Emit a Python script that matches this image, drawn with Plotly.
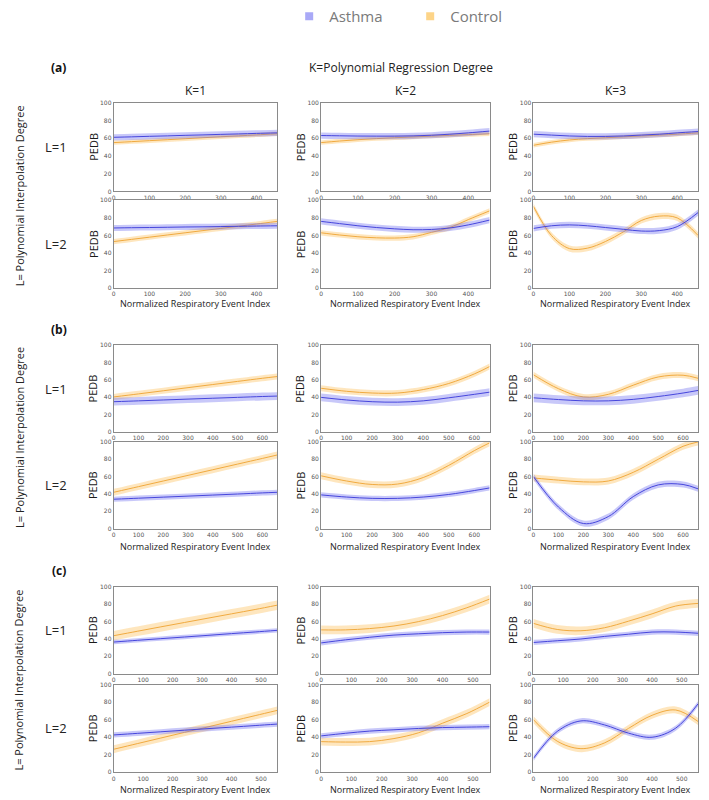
import plotly.graph_objects as go

# ---------------- data ----------------
series_names = ["Asthma", "Control"]
k_labels = ["K=1", "K=2", "K=3"]
l_labels = ["L=1", "L=2"]
panel_labels = ["(a)", "(b)", "(c)"]
y_ticks = [0, 20, 40, 60, 80, 100]

# x sample positions (normalized respiratory event index) for each panel
x_a = [0, 50, 100, 150, 200, 250, 300, 350, 400, 458]
x_b = [0, 100, 200, 300, 400, 500, 600, 660]
x_c = [0, 80, 160, 240, 320, 400, 480, 555]
xticks_a = [0, 100, 200, 300, 400]
xticks_b = [0, 100, 200, 300, 400, 500, 600]
xticks_c = [0, 100, 200, 300, 400, 500]

# Panel (a): mean PEDB, lists ordered K=1, K=2, K=3
a_asthma_L1 = [[61, 61.5, 62.1, 62.6, 63.2, 63.7, 64.3, 64.8, 65.4, 66],
               [63, 62.7, 62.4, 62.3, 62.3, 62.6, 63.3, 64.5, 66, 68],
               [64.5, 63.5, 62.5, 62, 62, 62.5, 63.5, 64.5, 66, 67.5]]
a_control_L1 = [[55, 56.1, 57.2, 58.3, 59.4, 60.5, 61.6, 62.6, 63.7, 65],
                [55, 56.8, 58.3, 59.5, 60.5, 61.4, 62.3, 63.2, 64, 65],
                [52, 55.5, 58, 59.5, 60.5, 61.5, 62.5, 63.5, 64.5, 66]]
a_asthma_L2 = [[68.5, 68.8, 69, 69.3, 69.6, 69.8, 70.1, 70.4, 70.7, 71],
               [76, 73.5, 71, 69, 67.5, 66.5, 66.8, 68.5, 72, 77.5],
               [68, 71, 72, 71, 69, 67, 65, 65.5, 70, 86]]
a_control_L2 = [[53, 55.5, 58, 60.5, 63, 65.5, 68, 70.5, 73, 76],
                [63, 60.5, 58.5, 57.3, 57, 58.5, 63.5, 69, 78, 88],
                [93, 60, 45, 45.5, 53, 64, 77, 82, 80, 60]]
# confidence half-widths
a_asthma_ci = [[3.5, 3.5, 3.5], [3.5, 3.5, 3.5]]
a_control_ci = [[2.5, 2.5, 2.5], [3.0, 3.0, 3.5]]

# Panel (b)
b_asthma_L1 = [[35, 36, 37, 38, 39, 40, 41, 41.5],
               [40, 37, 35, 34.5, 36, 39.5, 43.5, 46],
               [39.5, 37.5, 36, 36, 37.7, 41, 45, 48]]
b_control_L1 = [[40.5, 44, 47.6, 51.2, 54.8, 58.4, 62, 64],
                [50.5, 47, 45, 45, 49, 56, 67, 75.5],
                [66, 50, 40.5, 43.5, 54, 63.5, 65.5, 62]]
b_asthma_L2 = [[34, 35.2, 36.4, 37.6, 38.8, 40, 41.3, 42],
               [39, 36.5, 35, 35, 36.5, 39.5, 44, 47],
               [60, 25, 6, 14, 37, 50.5, 51, 46]]
b_control_L2 = [[42, 48.5, 55, 61.5, 68, 74.5, 81, 85],
                [61, 55, 51, 51.5, 59, 73, 90, 99],
                [58.5, 56, 54, 55, 65, 80, 95, 100]]
b_asthma_ci = [[4.5, 4.5, 5.0], [3.0, 3.0, 3.5]]
b_control_ci = [[3.5, 3.5, 3.5], [4.0, 4.0, 4.0]]

# Panel (c)
c_asthma_L1 = [[36.5, 38.5, 40.4, 42.3, 44.2, 46.2, 48.1, 50],
               [35.5, 39, 42, 44.5, 46, 47.3, 48, 48],
               [36, 38, 40, 43, 45.5, 48, 48, 46.6]]
c_control_L1 = [[43.8, 48.9, 54, 59, 64, 69, 74, 79],
                [50.5, 50.5, 52, 55, 60, 67, 76, 86],
                [58, 51, 49.5, 53, 60.5, 69, 78, 81]]
c_asthma_L2 = [[42.6, 44.4, 46.2, 48, 49.8, 51.5, 53.3, 55],
               [41.5, 44.5, 47, 48.5, 50, 51, 51.5, 52],
               [16, 46.6, 58.6, 54, 44.7, 40, 50.4, 78]]
c_control_L2 = [[26.3, 32.7, 39.1, 45.5, 51.8, 58.2, 64.6, 70.6],
                [35, 34.5, 35, 38.5, 45, 56, 67, 80],
                [60, 35.5, 27, 33.6, 50, 65, 71, 58]]
c_asthma_ci = [[2.5, 3.0, 3.0], [3.0, 3.0, 3.0]]
c_control_ci = [[5.5, 5.0, 5.0], [4.5, 4.5, 4.0]]

# ---------------- styling / layout ----------------
W, H = 709, 800
FONT = "Open Sans"
ASTHMA_LINE = "#4646dc"
ASTHMA_BAND = "rgba(110,110,240,0.38)"
CONTROL_LINE = "#f0aa40"
CONTROL_BAND = "rgba(252,196,100,0.42)"
ASTHMA_KEY = "#a9a9f7"
CONTROL_KEY = "#fdd488"

col_px = [(112, 276), (320, 489), (533, 698)]
panel_rows_px = [[(96, 186), (195, 284)],
                 [(342, 430), (440, 528)],
                 [(587, 675), (686, 775)]]
panel_label_y = [60, 326, 570]
xtitle_y = [300, 546, 792]

panels = [
    (x_a, xticks_a, 458, [a_asthma_L1, a_asthma_L2], [a_control_L1, a_control_L2], a_asthma_ci, a_control_ci),
    (x_b, xticks_b, 660, [b_asthma_L1, b_asthma_L2], [b_control_L1, b_control_L2], b_asthma_ci, b_control_ci),
    (x_c, xticks_c, 555, [c_asthma_L1, c_asthma_L2], [c_control_L1, c_control_L2], c_asthma_ci, c_control_ci),
]


def px_x(p):
    return p / W


def px_y(p):
    return 1 - p / H


fig = go.Figure()
layout_axes = {}
annotations = []


def add_band(xs, mean, ci, band_color, line_color, xa, ya, name):
    lower = [m - ci for m in mean]
    upper = [m + ci for m in mean]
    fig.add_trace(go.Scatter(x=xs, y=lower, mode="lines", line=dict(width=0, shape="spline"),
                             xaxis=xa, yaxis=ya, showlegend=False, hoverinfo="skip"))
    fig.add_trace(go.Scatter(x=xs, y=upper, mode="lines", line=dict(width=0, shape="spline"),
                             fill="tonexty", fillcolor=band_color,
                             xaxis=xa, yaxis=ya, showlegend=False, hoverinfo="skip"))
    fig.add_trace(go.Scatter(x=xs, y=mean, mode="lines", name=name,
                             line=dict(color=line_color, width=1, shape="spline"),
                             xaxis=xa, yaxis=ya, showlegend=False))


tick_font = dict(size=6, color="#555", family="DejaVu Sans")
n = 0
for p, (xs, xt, xmax, asth, ctrl, aci, cci) in enumerate(panels):
    for li in range(2):
        y0, y1 = panel_rows_px[p][li]
        for ki in range(3):
            n += 1
            x0, x1 = col_px[ki]
            xa = "x" if n == 1 else f"x{n}"
            ya = "y" if n == 1 else f"y{n}"
            xkey = "xaxis" if n == 1 else f"xaxis{n}"
            ykey = "yaxis" if n == 1 else f"yaxis{n}"
            layout_axes[xkey] = dict(
                domain=[px_x(x0), px_x(x1)], anchor=ya, range=[0, xmax],
                tickvals=xt, ticks="", tickfont=tick_font,
                showline=True, mirror=True, linecolor="#8a8a8a", linewidth=1,
                showgrid=False, zeroline=False, fixedrange=True)
            layout_axes[ykey] = dict(
                domain=[px_y(y1), px_y(y0)], anchor=xa, range=[0, 100],
                tickvals=y_ticks, ticks="", tickfont=tick_font,
                showline=True, mirror=True, linecolor="#8a8a8a", linewidth=1,
                showgrid=False, zeroline=False, fixedrange=True)
            add_band(xs, ctrl[li][ki], cci[li][ki], CONTROL_BAND, CONTROL_LINE, xa, ya, "Control")
            add_band(xs, asth[li][ki], aci[li][ki], ASTHMA_BAND, ASTHMA_LINE, xa, ya, "Asthma")
            # y-axis title
            annotations.append(dict(text="PEDB", x=px_x(x0 - 21), y=px_y((y0 + y1) / 2),
                                    xref="paper", yref="paper", showarrow=False, textangle=-90,
                                    font=dict(family=FONT, size=11, color="#1a1a1a"),
                                    xanchor="center", yanchor="middle"))
        # row label
        annotations.append(dict(text=l_labels[li], x=px_x(54), y=px_y((y0 + y1) / 2),
                                xref="paper", yref="paper", showarrow=False,
                                font=dict(family=FONT, size=13, color="#222"),
                                xanchor="center", yanchor="middle"))
    # x titles
    for ki in range(3):
        x0, x1 = col_px[ki]
        annotations.append(dict(text="Normalized Respiratory Event Index", x=px_x((x0 + x1) / 2),
                                y=px_y(xtitle_y[p]), xref="paper", yref="paper", showarrow=False,
                                font=dict(family=FONT, size=9, color="#222"),
                                xanchor="center", yanchor="middle"))
    # panel letter
    annotations.append(dict(text=f"<b>{panel_labels[p]}</b>", x=px_x(57), y=px_y(panel_label_y[p]),
                            xref="paper", yref="paper", showarrow=False,
                            font=dict(family=FONT, size=12, color="#111"),
                            xanchor="center", yanchor="middle"))
    # vertical L title
    top = panel_rows_px[p][0][0]
    bot = panel_rows_px[p][1][1]
    annotations.append(dict(text="L= Polynomial Interpolation Degree", x=px_x(17), y=px_y((top + bot) / 2),
                            xref="paper", yref="paper", showarrow=False, textangle=-90,
                            font=dict(family=FONT, size=11, color="#222"),
                            xanchor="center", yanchor="middle"))

# column headers and main title (panel a only)
annotations.append(dict(text="K=Polynomial Regression Degree", x=px_x(400), y=px_y(60),
                        xref="paper", yref="paper", showarrow=False,
                        font=dict(family=FONT, size=12, color="#222"),
                        xanchor="center", yanchor="middle"))
for ki in range(3):
    x0, x1 = col_px[ki]
    annotations.append(dict(text=k_labels[ki], x=px_x((x0 + x1) / 2), y=px_y(84),
                            xref="paper", yref="paper", showarrow=False,
                            font=dict(family=FONT, size=12, color="#222"),
                            xanchor="center", yanchor="middle"))

# legend entries
fig.add_trace(go.Scatter(x=[None], y=[None], mode="markers", name=series_names[0],
                         marker=dict(symbol="square", size=8, color=ASTHMA_KEY), showlegend=True))
fig.add_trace(go.Scatter(x=[None], y=[None], mode="markers", name=series_names[1],
                         marker=dict(symbol="square", size=8, color=CONTROL_KEY), showlegend=True))

fig.update_layout(
    width=W, height=H, autosize=False,
    margin=dict(l=0, r=0, t=0, b=0),
    paper_bgcolor="white", plot_bgcolor="white",
    showlegend=True,
    legend=dict(orientation="h", x=px_x(288), y=1.01, xanchor="left", yanchor="top",
                traceorder="normal",
                font=dict(family=FONT, size=15, color="#7a7a7a"),
                entrywidth=76, entrywidthmode="pixels", itemwidth=30,
                bgcolor="rgba(0,0,0,0)"),
    annotations=annotations,
    **layout_axes,
)

fig.write_html("out.html")
